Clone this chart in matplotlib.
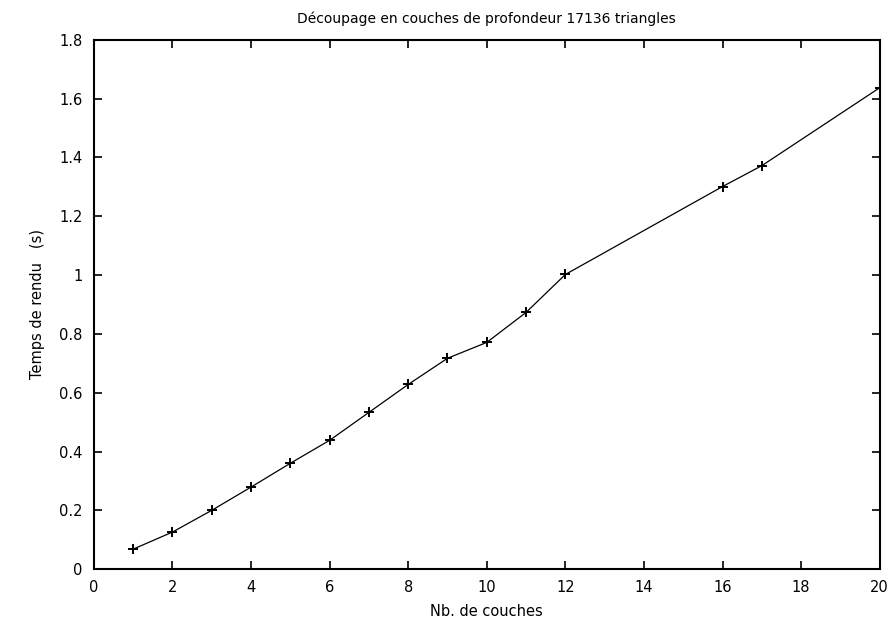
import matplotlib.pyplot as plt
from matplotlib.ticker import FormatStrFormatter

titre = "Découpage en couches de profondeur 17136 triangles"

couches = [1, 2, 3, 4, 5, 6, 7, 8, 9, 10, 11, 12, 16, 17, 20]
temps = [0.068, 0.126, 0.200, 0.279, 0.360, 0.438, 0.533, 0.628, 0.717,
         0.771, 0.873, 1.002, 1.301, 1.372, 1.637]

xticks = list(range(0, 21, 2))
yticks = [0, 0.2, 0.4, 0.6, 0.8, 1, 1.2, 1.4, 1.6, 1.8]

fig = plt.figure(figsize=(8.94, 6.22), dpi=100)
ax = fig.add_axes([0.105, 0.085, 0.879, 0.851])

ax.plot(couches, temps, color="black", linewidth=0.9, marker="+",
        markersize=7, markeredgewidth=1.4)

ax.set_xlim(0, 20)
ax.set_ylim(0, 1.8)
ax.set_xticks(xticks)
ax.set_yticks(yticks)
ax.yaxis.set_major_formatter(FormatStrFormatter("%g"))
ax.tick_params(direction="in", top=True, right=True, length=6, width=1.2,
               labelsize=10.5, pad=8)
for s in ax.spines.values():
    s.set_linewidth(1.5)

ax.set_title(titre, fontsize=10, pad=12)
ax.set_xlabel("Nb. de couches", fontsize=10.5, labelpad=6)
ax.set_ylabel("Temps de rendu   (s)", fontsize=10.5, labelpad=10)

fig.savefig("out.png", dpi=100)
